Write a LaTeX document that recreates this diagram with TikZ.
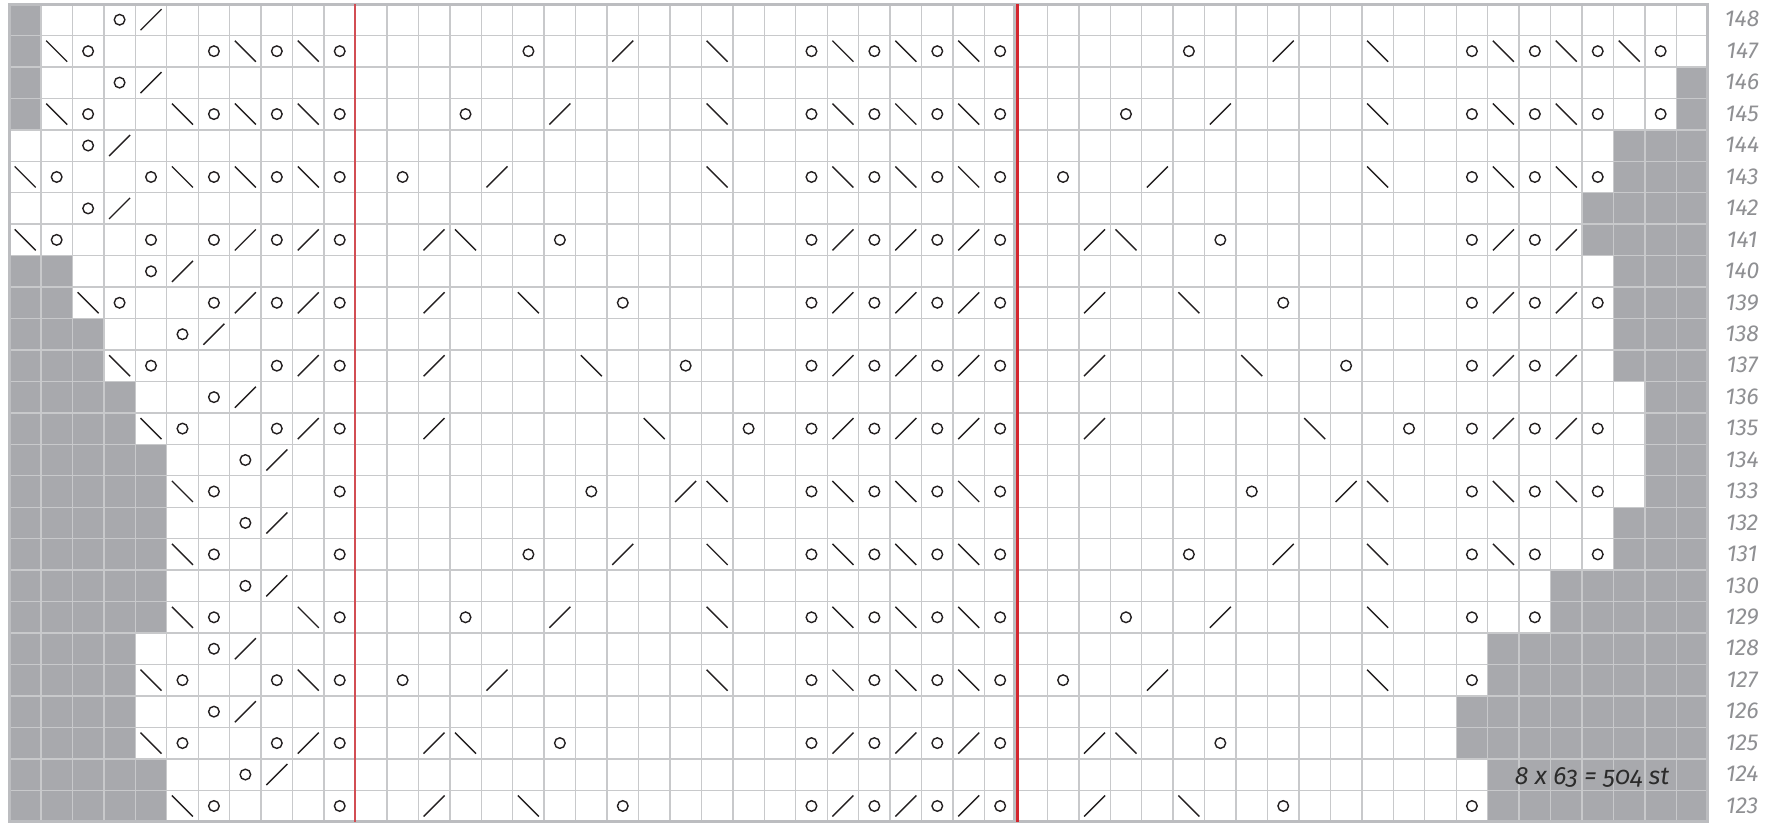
\documentclass[tikz,border=0pt]{standalone}
\usepackage{fontspec}
\setmainfont{Fira Sans}
\newfontfamily\osfont[Numbers=OldStyle]{Fira Sans}
\definecolor{grayc}{HTML}{A8A9AD}
\definecolor{gridc}{HTML}{C8C9CB}
\definecolor{borderc}{HTML}{BCBDC0}
\definecolor{redA}{HTML}{D24D53}
\definecolor{redB}{HTML}{D3262E}
\definecolor{labc}{HTML}{8F9093}
\definecolor{txtc}{HTML}{2B2B2B}
\definecolor{symc}{HTML}{231F20}
\tikzset{
  sym/.style={draw=symc,line width=1.4pt},
  gridl/.style={draw=gridc,line width=1.4pt},
  lab/.style={text=labc,font=\fontsize{23}{23}\selectfont\itshape,anchor=base,inner sep=0pt},
}
\newcommand{\chartrow}[6]{%
  \pgfmathtruncatemacro{\rr}{148-#1}%
  \ifnum#2>0 \fill[grayc] (0,\rr) rectangle (#2,\rr+1);\fi
  \ifnum#3<55 \fill[grayc] (#3-1,\rr) rectangle (54,\rr+1);\fi
  \foreach \c in {#4}{\ifnum\c>0 \draw[sym] (\c-0.5,\rr+0.5) circle[radius=5.3pt];\fi}
  \foreach \c in {#5}{\ifnum\c>0 \draw[sym,shift={(\c-0.5,\rr+0.5)}] (-10.5pt,-10.5pt) -- (10.5pt,10.5pt);\fi}
  \foreach \c in {#6}{\ifnum\c>0 \draw[sym,shift={(\c-0.5,\rr+0.5)}] (-10.5pt,10.5pt) -- (10.5pt,-10.5pt);\fi}
  \node[lab] (lab#1) at (55.09,\rr+0.73) {#1};
}
\begin{document}
\begin{tikzpicture}
\useasboundingbox (0,0) rectangle (1787pt,-825pt);
\fill[white] (0,0) rectangle (1787pt,-825pt);
\begin{scope}[shift={(9.5pt,-4pt)},x=31.45pt,y=-31.45pt]
\chartrow{148}{1}{55}{4}{5}{0}
\chartrow{147}{1}{55}{3,7,9,11,17,26,28,30,32,38,47,49,51,53}{20,41}{2,8,10,23,27,29,31,44,48,50,52}
\chartrow{146}{1}{54}{4}{5}{0}
\chartrow{145}{1}{54}{3,7,9,11,15,26,28,30,32,36,47,49,51,53}{18,39}{2,6,8,10,23,27,29,31,44,48,50}
\chartrow{144}{0}{52}{3}{4}{0}
\chartrow{143}{0}{52}{2,5,7,9,11,13,26,28,30,32,34,47,49,51}{16,37}{1,6,8,10,23,27,29,31,44,48,50}
\chartrow{142}{0}{51}{3}{4}{0}
\chartrow{141}{0}{51}{2,5,7,9,11,18,26,28,30,32,39,47,49}{8,10,14,27,29,31,35,48,50}{1,15,36}
\chartrow{140}{2}{52}{5}{6}{0}
\chartrow{139}{2}{52}{4,7,9,11,20,26,28,30,32,41,47,49,51}{8,10,14,27,29,31,35,48,50}{3,17,38}
\chartrow{138}{3}{52}{6}{7}{0}
\chartrow{137}{3}{52}{5,9,11,22,26,28,30,32,43,47,49}{10,14,27,29,31,35,48,50}{4,19,40}
\chartrow{136}{4}{53}{7}{8}{0}
\chartrow{135}{4}{53}{6,9,11,24,26,28,30,32,45,47,49,51}{10,14,27,29,31,35,48,50}{5,21,42}
\chartrow{134}{5}{53}{8}{9}{0}
\chartrow{133}{5}{53}{7,11,19,26,28,30,32,40,47,49,51}{22,43}{6,23,27,29,31,44,48,50}
\chartrow{132}{5}{52}{8}{9}{0}
\chartrow{131}{5}{52}{7,11,17,26,28,30,32,38,47,49,51}{20,41}{6,23,27,29,31,44,48}
\chartrow{130}{5}{50}{8}{9}{0}
\chartrow{129}{5}{50}{7,11,15,26,28,30,32,36,47,49}{18,39}{6,10,23,27,29,31,44}
\chartrow{128}{4}{48}{7}{8}{0}
\chartrow{127}{4}{48}{6,9,11,13,26,28,30,32,34,47}{16,37}{5,10,23,27,29,31,44}
\chartrow{126}{4}{47}{7}{8}{0}
\chartrow{125}{4}{47}{6,9,11,18,26,28,30,32,39}{10,14,27,29,31,35}{5,15,36}
\chartrow{124}{5}{48}{8}{9}{0}
\chartrow{123}{5}{48}{7,11,20,26,28,30,32,41,47}{14,27,29,31,35}{6,17,38}
% grid
\foreach \i in {0,...,54} \draw[gridl] (\i,0) -- (\i,26);
\foreach \j in {0,...,26} \draw[gridl] (0,\j) -- (54,\j);
\draw[draw=gridc,line width=2.6pt] (11,22) -- (32,22);
\draw[draw=borderc,line width=3pt] (0,0) rectangle (54,26);
% repeat markers
\draw[draw=redA,line width=2pt] (11,0) -- (11,26);
\draw[draw=borderc,line width=3pt] ([xshift=-1.7pt]32,0) -- ([xshift=-1.7pt]32,26);
\draw[draw=redB,line width=3.3pt] ([xshift=1.5pt]32,0) -- ([xshift=1.5pt]32,26);
\node[text=txtc,font=\osfont\fontsize{25}{25}\selectfont\itshape,anchor=base,inner sep=0pt] (note) at (50.32,24.83) {8 x 63 = 504 st};
\end{scope}
\end{tikzpicture}
\end{document}
